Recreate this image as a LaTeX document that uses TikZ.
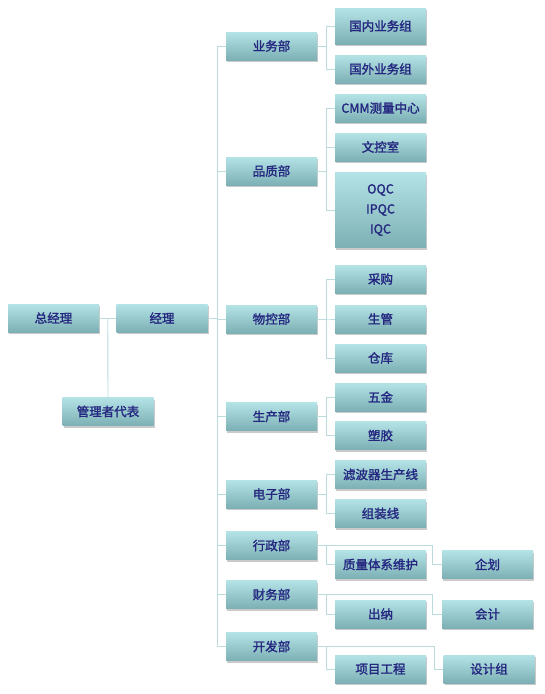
\documentclass[tikz,border=0pt]{standalone}
\usepackage{fontspec}
\setmainfont{Noto Sans CJK SC}
\newfontfamily\boxfont{Noto Sans CJK SC}[FakeBold=1.6]
\usepackage{tikz}
\usetikzlibrary{calc,shadows}
\usepackage{xcolor}

\definecolor{boxtop}{RGB}{180,227,230}
\definecolor{boxbot}{RGB}{124,176,180}
\definecolor{linkcol}{RGB}{188,219,221}
\definecolor{textcol}{RGB}{36,38,128}

\tikzset{
  orgbox/.style={minimum width=91pt, minimum height=28pt, inner sep=0pt,
    top color=boxtop, bottom color=boxbot,
    drop shadow={shadow xshift=1pt, shadow yshift=-2pt, opacity=0.35, fill=black!60},
    font=\boxfont\fontsize{12.5}{14}\selectfont, text=textcol},
  link/.style={draw=linkcol, line width=0.9pt}
}

\begin{document}
\begin{tikzpicture}[x=1pt, y=-1pt]
  \useasboundingbox (0,0) rectangle (544,694);

  % Define coordinates for nodes
  \node[orgbox] (zjl) at (53.5, 318) {总经理};
  \node[orgbox] (jingli) at (162, 318) {经理};
  \node[orgbox] (daibiao) at (108, 411.5) {管理者代表};

  \node[orgbox] (yewu) at (271.5, 46) {业务部};
  \node[orgbox] (pinzhi) at (271.5, 171) {品质部};
  \node[orgbox] (wukong) at (271.5, 319) {物控部};
  \node[orgbox] (shengchan) at (271.5, 416.5) {生产部};
  \node[orgbox] (dianzi) at (271.5, 494) {电子部};
  \node[orgbox] (xingzheng) at (271.5, 545.5) {行政部};
  \node[orgbox] (caiwu) at (271.5, 594.5) {财务部};
  \node[orgbox] (kaifa) at (271.5, 646.5) {开发部};

  \node[orgbox, minimum height=36pt] (guonei) at (380.5, 26) {国内业务组};
  \node[orgbox] (guowai) at (380.5, 69) {国外业务组};
  \node[orgbox] (cmm) at (380.5, 108) {CMM测量中心};
  \node[orgbox] (wenkong) at (380.5, 147) {文控室};
  \node[orgbox, minimum height=75pt, align=center] (qc) at (380.5, 210)
    {OQC\\[6pt]IPQC\\[6pt]IQC};
  \node[orgbox] (caigou) at (380.5, 279) {采购};
  \node[orgbox] (shengguan) at (380.5, 319) {生管};
  \node[orgbox] (cangku) at (380.5, 358) {仓库};
  \node[orgbox] (wujin) at (380.5, 397) {五金};
  \node[orgbox] (sujiao) at (380.5, 435.5) {塑胶};
  \node[orgbox] (lvbo) at (380.5, 474.5) {滤波器生产线};
  \node[orgbox] (zuzhuang) at (380.5, 513.5) {组装线};
  \node[orgbox] (zhiliang) at (380.5, 564.5) {质量体系维护};
  \node[orgbox] (chuna) at (380.5, 614) {出纳};
  \node[orgbox] (xiangmu) at (380.5, 669) {项目工程};

  \node[orgbox] (qihua) at (487.5, 564.5) {企划};
  \node[orgbox] (kuaiji) at (487.5, 614) {会计};
  \node[orgbox] (sheji) at (489, 669) {设计组};

  % Draw links between nodes
  \draw[link] (zjl) -- (jingli);
  \coordinate (split) at ($(zjl.east)!0.5!(jingli.west)$);
  \draw[link] (split) -- (daibiao.north);

  \foreach \d in {yewu, pinzhi, wukong, shengchan, dianzi, xingzheng, caiwu, kaifa}
    \draw[link] (jingli.east) -- ++(10,0) |- (\d.west);

  \foreach \p/\c in {yewu/guonei, yewu/guowai, pinzhi/cmm, pinzhi/wenkong, pinzhi/qc,
      wukong/caigou, wukong/shengguan, wukong/cangku, shengchan/wujin, shengchan/sujiao,
      dianzi/lvbo, dianzi/zuzhuang, xingzheng/zhiliang, caiwu/chuna, kaifa/xiangmu}
    \draw[link] (\p.east) -- ++(9,0) |- (\c.west);

  \draw[link] (xingzheng.east) -| ([xshift=-9pt]qihua.west) -- (qihua.west);
  \draw[link] (caiwu.east) -| ([xshift=-9pt]kuaiji.west) -- (kuaiji.west);
  \draw[link] (kaifa.east) -| ([xshift=-9pt]sheji.west) -- (sheji.west);
\end{tikzpicture}
\end{document}
